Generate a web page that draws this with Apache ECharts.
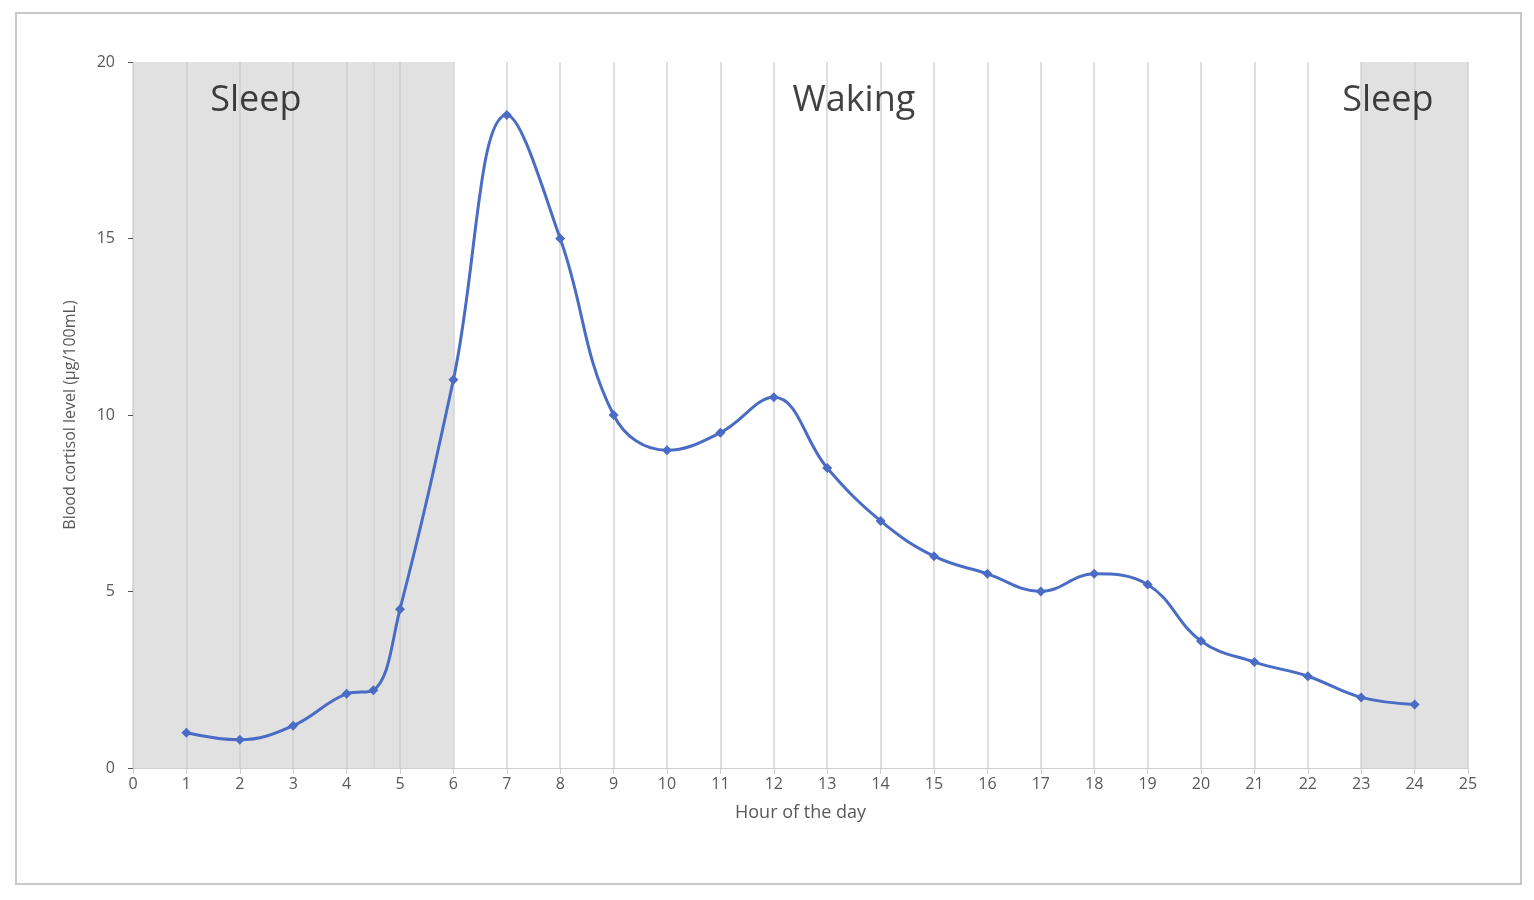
<!DOCTYPE html>
<html><head><meta charset="utf-8">
<script src="https://cdn.jsdelivr.net/npm/echarts@6/dist/echarts.min.js"></script>
<style>
body{margin:0;background:#fff}
#frame{position:absolute;left:15px;top:12px;width:1503px;height:869px;border:2px solid #c8c8c8}
#chart{position:absolute;left:0;top:0;width:1534px;height:900px}
</style></head><body>
<div id="frame"></div>
<div id="chart"></div>
<script>
var hours = [1, 2, 3, 4, 4.5, 5, 6, 7, 8, 9, 10, 11, 12, 13, 14, 15, 16, 17, 18, 19, 20, 21, 22, 23, 24];
var cortisol = [1, 0.8, 1.2, 2.1, 2.2, 4.5, 11, 18.5, 15, 10, 9, 9.5, 10.5, 8.5, 7, 6, 5.5, 5, 5.5, 5.2, 3.6, 3, 2.6, 2, 1.8];
var sleepBands = [[0, 6], [23, 25]];
var phaseLabels = [{ x: 2.3, text: 'Sleep' }, { x: 13.5, text: 'Waking' }, { x: 23.5, text: 'Sleep' }];

var myChart = echarts.init(document.getElementById('chart'));
var pts = hours.map(function (h, i) { return [h, cortisol[i]]; });

var option = {
  animation: false,
  grid: { left: 133, right: 66, top: 62, bottom: 132 },
  xAxis: {
    type: 'value', min: 0, max: 25, interval: 1,
    name: 'Hour of the day', nameLocation: 'middle', nameGap: 36,
    nameTextStyle: { color: '#595959', fontSize: 18, fontFamily: 'Open Sans' },
    axisLine: { lineStyle: { color: '#d0d0d0' } },
    axisTick: { show: true, length: 6, lineStyle: { color: '#d0d0d0' } },
    axisLabel: { color: '#595959', fontSize: 16, fontFamily: 'Open Sans' },
    splitLine: { show: true, lineStyle: { color: '#d4d4d4', width: 1.5 } }
  },
  yAxis: {
    type: 'value', min: 0, max: 20, interval: 5,
    name: 'Blood cortisol level (µg/100mL)', nameLocation: 'middle', nameGap: 55,
    nameTextStyle: { color: '#595959', fontSize: 16, fontFamily: 'Open Sans' },
    axisLine: { show: false },
    axisLabel: { color: '#595959', fontSize: 16, fontFamily: 'Open Sans', margin: 18 },
    splitLine: { show: false }
  },
  series: [
    {
      type: 'line', data: pts, smooth: 0.4,
      symbol: 'diamond', symbolSize: 10,
      lineStyle: { color: '#4a6cc4', width: 3 },
      itemStyle: { color: '#4a6cc4' },
      z: 5,
      markArea: {
        silent: true,
        itemStyle: { color: 'rgba(200,200,200,0.55)' },
        data: sleepBands.map(function (b) { return [{ xAxis: b[0] }, { xAxis: b[1] }]; })
      },
      markLine: {
        silent: true, symbol: 'none', label: { show: false },
        lineStyle: { color: '#d4d4d4', type: 'solid', width: 1.5 },
        data: [{ xAxis: 4.5 }]
      }
    },
    {
      type: 'scatter', data: phaseLabels.map(function (p) { return [p.x, 18.9, p.text]; }),
      symbolSize: 0, silent: true,
      label: {
        show: true, position: 'inside', color: '#111', fontSize: 36, fontFamily: 'Open Sans',
        formatter: function (p) { return p.data[2]; }
      }
    }
  ]
};
myChart.setOption(option);
</script>
</body></html>
